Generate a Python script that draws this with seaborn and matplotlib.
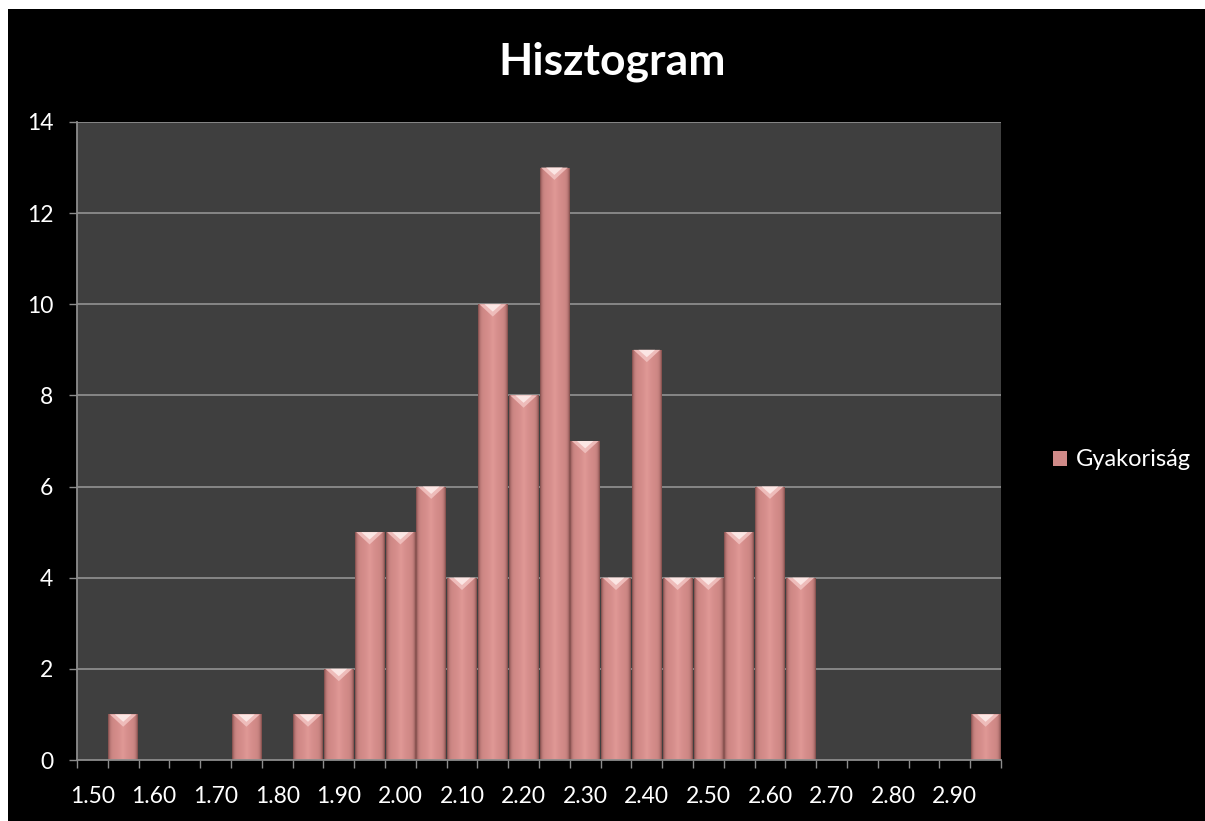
import numpy as np
import matplotlib
matplotlib.use("Agg")
import matplotlib.pyplot as plt
from matplotlib.patches import Rectangle, Polygon
import pandas as pd
import seaborn as sns

# Histogram bins (lower edge, step 0.05) and their frequencies
bins = ["1.50", "1.55", "1.60", "1.65", "1.70", "1.75", "1.80", "1.85", "1.90", "1.95",
        "2.00", "2.05", "2.10", "2.15", "2.20", "2.25", "2.30", "2.35", "2.40", "2.45",
        "2.50", "2.55", "2.60", "2.65", "2.70", "2.75", "2.80", "2.85", "2.90", "2.95"]
counts = [0, 1, 0, 0, 0, 1, 0, 1, 2, 5,
          5, 6, 4, 10, 8, 13, 7, 4, 9, 4,
          4, 5, 6, 4, 0, 0, 0, 0, 0, 1]
y_ticks = [0, 2, 4, 6, 8, 10, 12, 14]
title = "Hisztogram"
series_name = "Gyakoriság"

df = pd.DataFrame({"bin": bins, "count": counts})

sns.set_theme(style="dark")
plt.rcParams["font.family"] = ["Lato", "DejaVu Sans"]

W, H = 1205, 821
fig = plt.figure(figsize=(W / 100, H / 100), dpi=100, facecolor="white")
# black chart area with a thin white margin at top and left
fig.patches.append(Rectangle((8 / W, 0), 1, 1 - 9 / H, transform=fig.transFigure,
                             facecolor="black", edgecolor="none", zorder=-10))

ax = fig.add_axes([77 / W, 61 / H, 924 / W, 638 / H])
ax.set_facecolor("#3f3f3f")

bar_base = "#d08a88"
sns.barplot(data=df, x="bin", y="count", color=bar_base, width=0.96,
            saturation=1, ax=ax, zorder=2, edgecolor="none")

# shaded cylinder-like fill and bevelled top for every bar
u = np.linspace(0, 1, 64)
t = np.abs(u - 0.5) * 2
edge = np.array([0.50, 0.30, 0.29])
mid = np.array([0.82, 0.54, 0.53])
center = np.array([0.88, 0.60, 0.59])
w_edge = t ** 8
w_center = np.clip(1 - t * 1.4, 0, 1) ** 2
rgb = mid * (1 - w_edge - w_center)[:, None] + edge * w_edge[:, None] + center * w_center[:, None]
grad = rgb[None, :, :]

bevel_depth = 0.27
for p in list(ax.patches):
    h = p.get_height()
    if h <= 0:
        continue
    x0 = p.get_x()
    bw = p.get_width()
    im = ax.imshow(grad, extent=(x0, x0 + bw, 0, h), aspect="auto",
                   interpolation="bilinear", zorder=3)
    im.set_clip_path(p)
    p.set_facecolor("none")
    cx = x0 + bw / 2
    ax.add_patch(Polygon([(x0 + bw * 0.05, h), (x0 + bw * 0.95, h), (cx, h - bevel_depth)],
                         closed=True, facecolor="#eebcba", edgecolor="none", zorder=4))
    ax.add_patch(Polygon([(x0 + bw * 0.22, h), (x0 + bw * 0.78, h), (cx, h - bevel_depth * 0.6)],
                         closed=True, facecolor="#fbe6e4", edgecolor="none", zorder=4))

ax.set_xlim(-0.5, len(bins) - 0.5)
ax.set_ylim(0, 14)
ax.set_yticks(y_ticks)
ax.set_yticklabels([str(v) for v in y_ticks])
ax.set_xticks(range(0, len(bins), 2))
ax.set_xticklabels(bins[::2])
ax.set_xticks(np.arange(-0.5, len(bins), 1.0), minor=True)

ax.grid(False)
for v in y_ticks[1:]:
    ax.axhline(v, color="#8c8c8c", lw=1.3, zorder=1)

for side in ("top", "right"):
    ax.spines[side].set_visible(False)
for side in ("left", "bottom"):
    ax.spines[side].set_visible(True)
    ax.spines[side].set_color("#8c8c8c")
    ax.spines[side].set_linewidth(1.3)
    ax.spines[side].set_zorder(5)

ax.tick_params(axis="y", which="major", left=True, length=6, width=1, color="#8c8c8c",
               labelcolor="white", labelsize=16.5, pad=11)
ax.tick_params(axis="x", which="major", bottom=False, length=0, labelcolor="white",
               labelsize=16.5, pad=19)
ax.tick_params(axis="x", which="minor", bottom=True, length=6, width=1, color="#8c8c8c")
ax.set_xlabel("")
ax.set_ylabel("")

fig.text(612 / W, 1 - 62 / H, title, ha="center", va="center", color="white",
         fontsize=32, fontweight="bold")

handle = Rectangle((0, 0), 1, 1, facecolor=bar_base, edgecolor="none")
leg = fig.legend([handle], [series_name], loc="center left",
                 bbox_to_anchor=(1032 / W, 1 - 460 / H), frameon=False,
                 fontsize=17, handlelength=0.6, handleheight=0.6, handletextpad=0.35)
for txt in leg.get_texts():
    txt.set_color("white")

fig.savefig("out.png", dpi=100, facecolor=fig.get_facecolor())
